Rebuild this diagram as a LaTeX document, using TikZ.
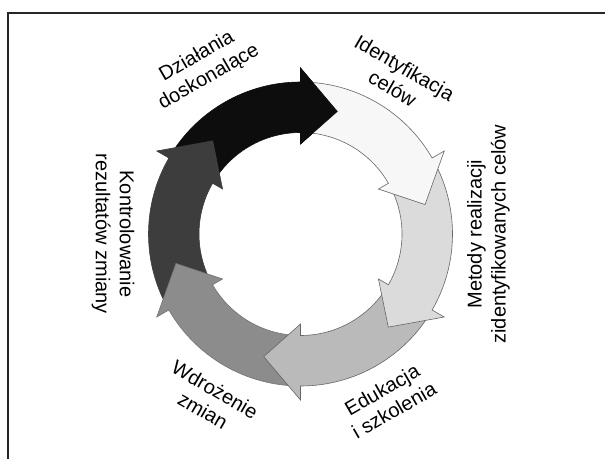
\documentclass[tikz,border=0pt]{standalone}
\usepackage{fontspec}
\setmainfont{Liberation Sans}
\tikzset{
        x=1pt, y=1pt,
        ringarrow/.style={line width=0.6pt, line join=miter},
        cyclelabel/.style={align=center, font=\fontsize{20}{24}\selectfont, inner sep=0pt}
        }

\begin{document}
\begin{tikzpicture}
        \useasboundingbox (0,0) rectangle (605,459);
        % open frame
        \draw[line width=1.5pt, black!85] (605,446) -- (8,446) -- (8,0);
        % ring of six arrows, each head laid over the tail of the next one
        \begin{scope}[shift={(300.5,225)}]
        \foreach \base/\shade/\edge in {90/black!95/black!95, -210/black!76/black!76, -150/black!45/black!55,
                -90/black!27/black!60, -30/black!14/black!60, 30/black!3/black!60}
            {
            \pgfmathsetmacro{\tail}{\base+60}
            \pgfmathsetmacro{\tip}{\base-16.7}
            \filldraw[ringarrow, fill=\shade, draw=\edge] (\tail:152) arc[start angle=\tail, end angle=\base, radius=152]
                -- (\base:166) -- (\tip:128) -- (\base:90) -- (\base:101.5)
                arc[start angle=\base, end angle=\tail, radius=101.5] -- cycle;
            }
        \filldraw[ringarrow, fill=black!95, draw=black!95] (90:166) -- (73.3:128) -- (90:90) -- cycle;
        \end{scope}
        % labels
        \node[cyclelabel, rotate=30] (improve) at (203,392) {Działania\\doskonalące};
        \node[cyclelabel, rotate=-30] (goals) at (398.6,381) {Identyfikacja\\celów};
        \node[cyclelabel, rotate=90] (methods) at (488.5,225) {Metody realizacji\\zidentyfikowanych celów};
        \node[cyclelabel, rotate=30] (training) at (388,59) {Edukacja\\i szkolenia};
        \node[cyclelabel, rotate=-30] (rollout) at (209,59) {Wdrożenie\\zmian};
        \node[cyclelabel, rotate=-90] (control) at (113,225) {Kontrolowanie\\rezultatów zmiany};
\end{tikzpicture}
\end{document}
